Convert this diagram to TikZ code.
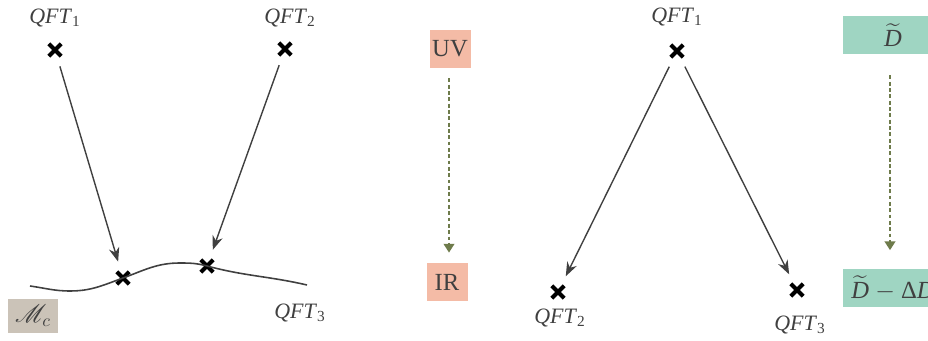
\documentclass[tikz,border=0pt]{standalone}
\usepackage{amsmath,amssymb}
\usepackage{mathrsfs}
\usepackage{fontspec}
\setmainfont{Liberation Serif}
\usepackage{tikz}
\usetikzlibrary{positioning}
\usetikzlibrary{calc}
\usetikzlibrary{arrows.meta}
\usetikzlibrary{shapes.misc}
\definecolor{ink}{HTML}{404040}
\definecolor{olive}{HTML}{6E7B4B}
\definecolor{salmon}{HTML}{F4BBA6}
\definecolor{mint}{HTML}{9FD5C2}
\definecolor{stone}{HTML}{CBC3B8}

\begin{document}
\begin{tikzpicture}[
    font=\fontsize{12.5}{14}\selectfont,
    qft/.style={
      text=ink,
      inner sep=0pt
    },
    pt/.style={
      cross out,
      draw=black,
      line width=2.3pt,
      minimum size=4.8pt,
      inner sep=0pt
    },
    flow/.style={
      draw=ink,
      line width=0.8pt,
      -{Stealth[length=8pt, width=6pt]},
      shorten <=6pt,
      shorten >=6pt
    },
    band/.style={
      rectangle,
      text=ink,
      font=\fontsize{14}{16}\selectfont,
      minimum width=0.82cm,
      minimum height=0.76cm,
      inner sep=1pt
    },
    rg/.style={
      draw=olive,
      line width=1.2pt,
      dash pattern=on 2.2pt off 1.4pt,
      -{Triangle[length=5pt, width=6pt, fill=olive]}
    }
  ]
  \useasboundingbox (0,0) rectangle (18.56,6.82);

  % left: two theories meeting on the conformal manifold
  \begin{scope}
    \node[qft] (L1) at (1.10,6.46) {\textit{QFT}\textsubscript{1}};
    \node[qft] (L2) at (5.80,6.46) {\textit{QFT}\textsubscript{2}};
    \node[pt] (P1) at (1.10,5.82) {};
    \node[pt] (P2) at (5.70,5.84) {};
    \node[pt] (M1) at (2.46,1.26) {};
    \node[pt] (M2) at (4.14,1.50) {};

    \draw[ink, line width=0.9pt] (0.60,1.10) to[out=-8,in=180] (1.40,1.00) to[out=0,in=200] (M1.center)
      to[out=20,in=180] (3.60,1.56) to[out=0,in=165] (M2.center) to[out=-15,in=167] (6.14,1.12);

    \draw[flow] (P1) -- (M1);
    \draw[flow] (P2) -- (M2);

    \node[qft] (L3) at (6.00,0.56) {\textit{QFT}\textsubscript{3}};
    \node[band, fill=stone, minimum width=1.0cm, minimum height=0.68cm] (Mc) at (0.66,0.50) {$\mathscr{M}_c$};
  \end{scope}

  % middle: UV to IR
  \node[band, fill=salmon] (UV) at (9.00,5.84) {UV};
  \node[band, fill=salmon] (IR) at (8.94,1.18) {IR};
  \draw[rg, shorten <=5.7pt, shorten >=5.7pt] ($(UV.south)+(-0.02,0)$) -- ($(UV.south |- IR.north)+(-0.02,0)$);

  % right: one theory flowing to two
  \begin{scope}
    \node[qft] (R1) at (13.54,6.48) {\textit{QFT}\textsubscript{1}};
    \node[pt] (Q1) at (13.54,5.80) {};
    \node[pt] (Q2) at (11.16,0.98) {};
    \node[pt] (Q3) at (15.94,1.02) {};
    \node[qft] (R2) at (11.20,0.46) {\textit{QFT}\textsubscript{2}};
    \node[qft] (R3) at (16.00,0.32) {\textit{QFT}\textsubscript{3}};

    \draw[flow] (Q1) -- (Q2);
    \draw[flow] (Q1) -- (Q3);
  \end{scope}

  \node[band, fill=mint, minimum width=2.0cm] (D0) at (17.86,6.12) {$\widetilde{\textit{D}}$};
  \node[band, fill=mint, minimum width=2.0cm] (D1) at (17.86,1.06) {$\widetilde{\textit{D}}$ $-$ Δ\textit{D}};
  \draw[rg, shorten <=12pt, shorten >=10.5pt] ($(D0.south)+(-0.06,0)$) -- ($(D0.south |- D1.north)+(-0.06,0)$);

\end{tikzpicture}
\end{document}
